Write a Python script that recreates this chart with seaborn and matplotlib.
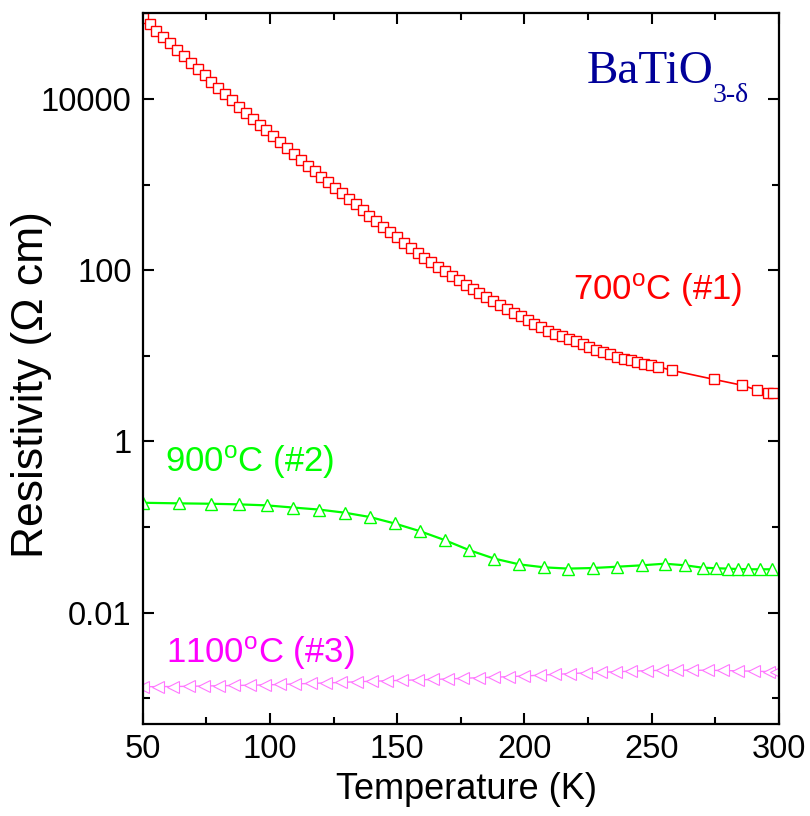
import matplotlib
matplotlib.use("Agg")
import matplotlib.pyplot as plt
import matplotlib.ticker as mticker
import seaborn as sns
import pandas as pd

# ---------------- data ----------------
t_700 = [50.0, 52.7, 55.4, 58.1, 60.8, 63.5, 66.2, 68.9, 71.6, 74.3, 77.0, 79.7,
         82.4, 85.1, 87.8, 90.5, 93.2, 95.9, 98.6, 101.3, 104.0, 106.7, 109.4,
         112.1, 114.8, 117.5, 120.2, 122.9, 125.6, 128.3, 131.0, 133.7, 136.4,
         139.1, 141.8, 144.5, 147.2, 149.9, 152.6, 155.3, 158.0, 160.7, 163.4,
         166.1, 168.8, 171.5, 174.2, 176.9, 179.6, 182.3, 185.0, 187.7, 190.4,
         193.1, 195.8, 198.5, 201.2, 203.9, 206.6, 209.3, 212.0, 214.7, 217.4,
         220.1, 222.8, 225.5, 228.2, 230.9, 233.6, 236.3, 239.0, 241.7, 244.4,
         247.1, 249.8, 252.5, 258.1, 274.5, 285.3, 291.5, 295.8, 297.8]
rho_700 = [88900, 74600, 62800, 52700, 44400, 37200, 31300, 26300, 22200, 18800,
           15900, 13400, 11400, 9620, 8150, 6900, 5890, 5010, 4280, 3650, 3110,
           2650, 2260, 1940, 1660, 1430, 1220, 1060, 918, 794, 684, 587, 505, 433,
           373, 323, 279, 242, 210, 183, 160, 140, 124, 109, 96.6, 85.7, 76.2,
           67.9, 60.4, 54.2, 48.6, 43.6, 39.1, 35.3, 31.9, 28.8, 26.2, 23.8, 21.7,
           19.7, 18.2, 16.9, 15.7, 14.7, 13.6, 12.7, 11.8, 11.0, 10.4, 9.80, 9.25,
           8.81, 8.43, 8.07, 7.73, 7.46, 6.74, 5.30, 4.54, 3.97, 3.70, 3.63]

t_900 = [50.0, 64.2, 76.7, 87.7, 98.7, 108.9, 119.2, 129.4, 139.2, 149.0, 158.8,
         168.6, 178.2, 188.1, 198.0, 207.8, 217.2, 226.8, 236.5, 246.1, 255.1,
         263.2, 270.0, 275.3, 279.8, 283.8, 287.9, 292.5, 297.1]
rho_900 = [0.192, 0.189, 0.187, 0.184, 0.179, 0.169, 0.160, 0.147, 0.131, 0.110,
           0.0897, 0.0705, 0.0538, 0.0428, 0.0366, 0.0338, 0.0327, 0.0332, 0.0344,
           0.0357, 0.0373, 0.0357, 0.0335, 0.0330, 0.0327, 0.0323, 0.0321, 0.0321,
           0.0321]

t_1100 = [50, 56, 62, 68, 74, 80, 86, 92, 98, 104, 110, 116, 122, 128, 134, 140,
          146, 152, 158, 164, 170, 176, 182, 188, 194, 200, 206, 212, 218, 224,
          230, 236, 242, 248, 254, 260, 266, 272, 278, 284, 290, 296, 299]
rho_1100 = [0.00136, 0.00137, 0.00137, 0.00138, 0.00139, 0.00140, 0.00141,
            0.00142, 0.00143, 0.00145, 0.00147, 0.00149, 0.00151, 0.00153,
            0.00156, 0.00158, 0.00160, 0.00162, 0.00164, 0.00166, 0.00168,
            0.00171, 0.00174, 0.00176, 0.00179, 0.00182, 0.00186, 0.00190,
            0.00194, 0.00198, 0.00201, 0.00204, 0.00207, 0.00210, 0.00212,
            0.00213, 0.00213, 0.00212, 0.00211, 0.00209, 0.00207, 0.00205,
            0.00204]

x_ticks = [50, 100, 150, 200, 250, 300]
y_ticks = [0.01, 1, 100, 10000]
y_tick_labels = ["0.01", "1", "100", "10000"]

# ---------------- style ----------------
sns.set_style("ticks")
plt.rcParams["font.family"] = ["Liberation Sans", "DejaVu Sans"]
plt.rcParams["mathtext.fontset"] = "custom"
plt.rcParams["mathtext.rm"] = "Liberation Sans"
plt.rcParams["mathtext.it"] = "Liberation Sans:italic"
plt.rcParams["text.color"] = "black"
plt.rcParams["axes.labelcolor"] = "black"
plt.rcParams["xtick.color"] = "black"
plt.rcParams["ytick.color"] = "black"

fig = plt.figure(figsize=(8.1, 8.16), dpi=100)
ax = fig.add_axes([0.1762, 0.1127, 0.9617 - 0.1762, 0.9837 - 0.1127])

df1 = pd.DataFrame({"T": t_700, "rho": rho_700})
df2 = pd.DataFrame({"T": t_900, "rho": rho_900})
df3 = pd.DataFrame({"T": t_1100, "rho": rho_1100})

sns.lineplot(data=df1, x="T", y="rho", ax=ax, color="#ff0000", lw=1.2,
             marker="s", markersize=7.2, markerfacecolor="white",
             markeredgecolor="#ff0000", markeredgewidth=1.0,
             estimator=None, sort=False)
sns.lineplot(data=df2, x="T", y="rho", ax=ax, color="#00ff00", lw=1.6,
             marker="^", markersize=8.5, markerfacecolor="white",
             markeredgecolor="#00ff00", markeredgewidth=1.0,
             estimator=None, sort=False)
sns.lineplot(data=df3, x="T", y="rho", ax=ax, color="#ff77ff", lw=1.0,
             marker="<", markersize=8, markerfacecolor="white",
             markeredgecolor="#ff77ff", markeredgewidth=0.8,
             estimator=None, sort=False)

ax.set_yscale("log")
ax.set_xlim(50, 300)
ax.set_ylim(5e-4, 1e5)

ax.set_xticks(x_ticks)
ax.set_xticklabels([str(v) for v in x_ticks])
ax.xaxis.set_minor_locator(mticker.MultipleLocator(25))
ax.set_yticks(y_ticks)
ax.set_yticklabels(y_tick_labels)
ax.yaxis.set_minor_locator(mticker.FixedLocator([1e-3, 1e-1, 1e1, 1e3]))
ax.yaxis.set_minor_formatter(mticker.NullFormatter())

ax.tick_params(which="both", direction="in", top=True, right=True,
               width=1.5, colors="black")
ax.tick_params(which="major", length=8, labelsize=23.5, pad=8)
ax.tick_params(which="minor", length=5)
ax.tick_params(axis="x", which="major", pad=7)
for s in ax.spines.values():
    s.set_linewidth(1.6)
    s.set_color("black")

ax.set_xlabel("Temperature (K)", fontsize=26)
ax.xaxis.set_label_coords(0.509, -0.068)
ax.xaxis.label.set_va("top")
ax.set_ylabel("Resistivity (\u03a9 cm)", fontsize=32)
ax.yaxis.set_label_coords(-0.143, 0.477)

ax.text(0.677, 0.597, r"700$^{\rm o}$C (#1)", transform=ax.transAxes,
        fontsize=25, color="#ff0000", ha="left", va="baseline")
ax.text(0.035, 0.355, r"900$^{\rm o}$C (#2)", transform=ax.transAxes,
        fontsize=25, color="#00ff00", ha="left", va="baseline")
ax.text(0.037, 0.086, r"1100$^{\rm o}$C (#3)", transform=ax.transAxes,
        fontsize=25, color="#ff00ff", ha="left", va="baseline")

ax.text(0.697, 0.9015, "BaTiO", transform=ax.transAxes, fontsize=34,
        family=["Liberation Serif", "DejaVu Serif"], color="#000099",
        ha="left", va="baseline")
ax.text(0.8958, 0.8756, "3-\u03b4", transform=ax.transAxes, fontsize=20,
        family=["Liberation Serif", "DejaVu Serif"], color="#000099",
        ha="left", va="baseline")

fig.savefig("out.png", dpi=100)
